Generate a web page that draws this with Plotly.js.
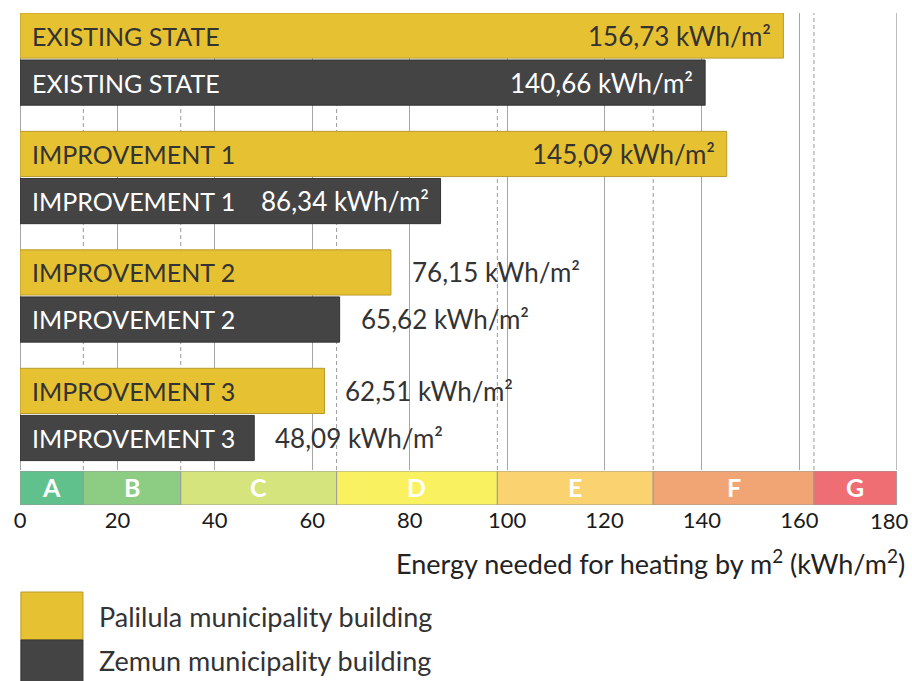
<!DOCTYPE html>
<html>
<head>
<meta charset="utf-8">
<script src="https://cdn.plot.ly/plotly-3.0.1.min.js"></script>
<style>html,body{margin:0;padding:0;background:#fff;}#chart{width:912px;height:681px;}</style>
</head>
<body>
<div id="chart"></div>
<script>
// ---- data ----
var categories = ['EXISTING STATE', 'IMPROVEMENT 1', 'IMPROVEMENT 2', 'IMPROVEMENT 3'];
var seriesNames = ['Palilula municipality building', 'Zemun municipality building'];
var palilulaValues = [156.73, 145.09, 76.15, 62.51];
var zemunValues = [140.66, 86.34, 65.62, 48.09];
var classLetters = ['A', 'B', 'C', 'D', 'E', 'F', 'G'];
var classBounds = [0, 13, 33, 65, 98, 130, 163, 180];
var classColors = ['#61c18d', '#8dcd83', '#d6e47e', '#faf160', '#fad26f', '#f2a574', '#ee6e74'];
var xTickValues = [0, 20, 40, 60, 80, 100, 120, 140, 160, 180];
var axisTitle = 'Energy needed for heating by m<sup>2</sup> (kWh/m<sup>2</sup>)';
var unit = ' kWh/m²';

// ---- styles ----
var YELLOW = '#e6c132';
var DARK = '#444444';
var FONT = 'Lato, "Open Sans", sans-serif';
var TICKFONT = { family: FONT, size: 22, color: '#1a1a1a' };

function fmt(v) { return v.toFixed(2).replace('.', ',') + unit; }

// tick labels: the last one is drawn as an annotation nudged inside the page
var lastTick = xTickValues[xTickValues.length - 1];
var xTickText = xTickValues.map(function (v) { return v === lastTick ? '' : String(v); });

var traces = [
  {
    type: 'bar', orientation: 'h', name: seriesNames[0],
    y: categories, x: palilulaValues,
    marker: { color: YELLOW, line: { color: '#b89b2c', width: 1 } },
    hoverinfo: 'skip', showlegend: false
  },
  {
    type: 'bar', orientation: 'h', name: seriesNames[1],
    y: categories, x: zemunValues,
    marker: { color: DARK, line: { color: '#333333', width: 1 } },
    hoverinfo: 'skip', showlegend: false
  }
];

// energy class band
var widths = [], bases = [], bandY = [], mids = [];
for (var i = 0; i < classLetters.length; i++) {
  bases.push(classBounds[i]);
  widths.push(classBounds[i + 1] - classBounds[i]);
  mids.push((classBounds[i] + classBounds[i + 1]) / 2);
  bandY.push('class');
}
traces.push({
  type: 'bar', orientation: 'h', xaxis: 'x', yaxis: 'y2',
  y: bandY, x: widths, base: bases, width: 1,
  marker: { color: classColors, line: { color: '#9a9a9a', width: 1 } },
  hoverinfo: 'skip', showlegend: false
});

var annotations = [];
classLetters.forEach(function (L, i) {
  annotations.push({
    x: mids[i], y: 'class', xref: 'x', yref: 'y2', xanchor: 'center', yanchor: 'middle',
    showarrow: false, text: '<b>' + L + '</b>', yshift: 1,
    font: { family: FONT, size: 25, color: '#ffffff' }
  });
});

// last tick label
annotations.push({
  x: lastTick, y: -0.0323, xref: 'x', yref: 'paper', xanchor: 'center', yanchor: 'middle',
  xshift: -7, showarrow: false, text: String(lastTick), font: TICKFONT
});

// annotations: category labels and value labels
var groups = [
  { vals: palilulaValues, shift: 23.5, inColor: '#333333' },
  { vals: zemunValues, shift: -23.5, inColor: '#ffffff' }
];
groups.forEach(function (g) {
  categories.forEach(function (c, k) {
    annotations.push({
      x: 0, y: c, xref: 'x', yref: 'y', xanchor: 'left', yanchor: 'middle',
      xshift: 10, yshift: g.shift, showarrow: false, text: c,
      font: { family: FONT, size: 25, color: g.inColor }
    });
    var v = g.vals[k];
    var inside = v > 80;
    annotations.push({
      x: v, y: c, xref: 'x', yref: 'y',
      xanchor: inside ? 'right' : 'left', yanchor: 'middle',
      xshift: inside ? -10 : 19, yshift: g.shift, showarrow: false, text: fmt(v),
      font: { family: FONT, size: 26, color: inside ? g.inColor : '#333333' }
    });
  });
});

// axis title (right aligned)
annotations.push({
  x: 1, y: -0.115, xref: 'paper', yref: 'paper', xanchor: 'right', yanchor: 'middle',
  xshift: 10, showarrow: false, text: axisTitle,
  font: { family: FONT, size: 27, color: '#222222' }
});

// legend
var legendColors = [YELLOW, DARK];
var legendY = [[-0.1758, -0.2727], [-0.2727, -0.38]];
var shapes = [];
seriesNames.forEach(function (n, k) {
  shapes.push({
    type: 'rect', xref: 'paper', yref: 'paper',
    x0: 0.001, x1: 0.0718, y0: legendY[k][1], y1: legendY[k][0],
    fillcolor: legendColors[k], line: { color: k === 0 ? '#b89b2c' : '#333333', width: 1 }, layer: 'above'
  });
  annotations.push({
    x: 0.0878, y: (legendY[k][0] + legendY[k][1]) / 2 + (k === 1 ? 0.012 : 0),
    xref: 'paper', yref: 'paper', xanchor: 'left', yanchor: 'middle',
    showarrow: false, text: n, font: { family: FONT, size: 27, color: '#333333' }
  });
});

// dashed class boundaries
for (var j = 1; j < classBounds.length - 1; j++) {
  shapes.push({
    type: 'line', xref: 'x', yref: 'y domain', x0: classBounds[j], x1: classBounds[j],
    y0: 0, y1: 1, line: { color: '#9a9a9a', width: 1, dash: '4px,3px' }, layer: 'below'
  });
}
// right edge grid line at axis end
shapes.push({
  type: 'line', xref: 'x', yref: 'y domain', x0: lastTick, x1: lastTick, y0: 0, y1: 1,
  line: { color: '#a6a6a6', width: 1 }, layer: 'below'
});

var layout = {
  width: 912, height: 681,
  margin: { l: 20, r: 15, t: 10, b: 176 },
  paper_bgcolor: '#ffffff', plot_bgcolor: 'rgba(0,0,0,0)',
  font: { family: FONT, color: '#222222' },
  barmode: 'group', bargap: 0.205, bargroupgap: 0.04,
  showlegend: false,
  xaxis: {
    range: [0, 180.05], tickvals: xTickValues, ticktext: xTickText, anchor: 'y2',
    showgrid: true, gridcolor: '#a6a6a6', gridwidth: 1,
    zeroline: true, zerolinecolor: '#a6a6a6', zerolinewidth: 1,
    showline: false, ticks: '', ticklabeloverflow: 'allow',
    tickfont: TICKFONT
  },
  yaxis: {
    domain: [0.0707, 0.994], type: 'category', categoryarray: categories,
    range: [3.469, -0.389], showticklabels: false, showgrid: false,
    zeroline: false, ticks: ''
  },
  yaxis2: {
    domain: [0, 0.0687], range: [-0.5, 0.5], showticklabels: false,
    showgrid: false, zeroline: false, ticks: '', type: 'category'
  },
  annotations: annotations,
  shapes: shapes
};

Plotly.newPlot('chart', traces, layout, { staticPlot: true, displayModeBar: false });
</script>
</body>
</html>
